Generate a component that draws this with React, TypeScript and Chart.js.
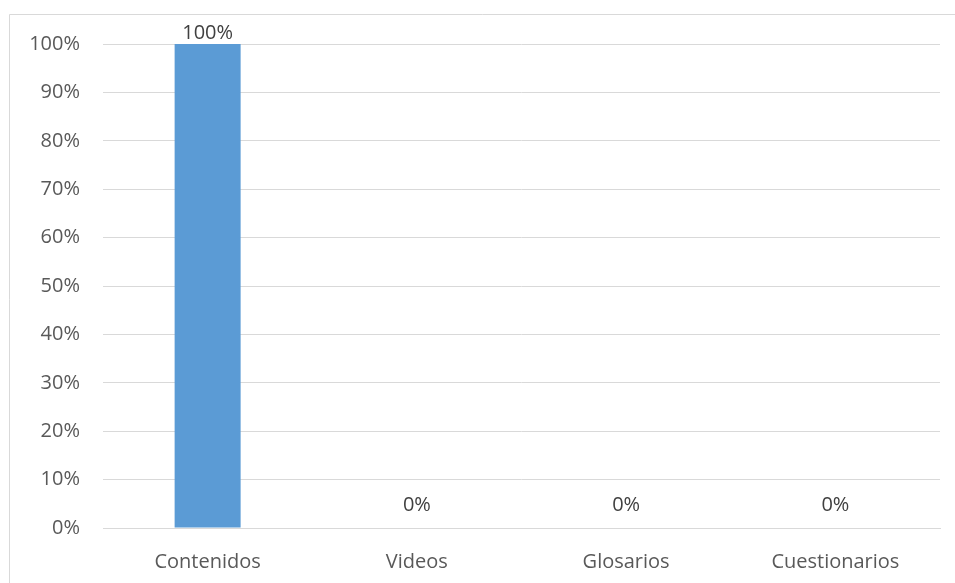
import React, { useEffect, useRef } from "react";
import { Chart, registerables } from "chart.js";

Chart.register(...registerables);

const categories = ["Contenidos", "Videos", "Glosarios", "Cuestionarios"];
const values = [100, 0, 0, 0];
const yTicks = [0, 10, 20, 30, 40, 50, 60, 70, 80, 90, 100];

const FONT = "'Open Sans', sans-serif";

const frame = {
  id: "frame",
  beforeDraw(chart: any) {
    const { ctx } = chart;
    ctx.save();
    ctx.fillStyle = "#ffffff";
    ctx.fillRect(0, 0, chart.width, chart.height);
    ctx.strokeStyle = "#d9d9d9";
    ctx.lineWidth = 1;
    ctx.beginPath();
    ctx.moveTo(9.5, chart.height + 5);
    ctx.lineTo(9.5, 14.5);
    ctx.lineTo(chart.width + 5, 14.5);
    ctx.stroke();
    ctx.restore();
  },
};

const labels = {
  id: "valueLabels",
  afterDatasetsDraw(chart: any) {
    const { ctx } = chart;
    const meta = chart.getDatasetMeta(0);
    ctx.save();
    ctx.font = `20px ${FONT}`;
    ctx.fillStyle = "#404040";
    ctx.textAlign = "center";
    ctx.textBaseline = "middle";
    meta.data.forEach((bar: any, i: number) => {
      const v = values[i];
      const off = v > 0 ? 11 : 23;
      ctx.fillText(`${v}%`, bar.x, bar.y - off);
    });
    ctx.restore();
  },
};

export default function App() {
  const ref = useRef<HTMLCanvasElement>(null);
  useEffect(() => {
    if (!ref.current) return;
    const chart = new Chart(ref.current, {
      type: "bar",
      data: {
        labels: categories,
        datasets: [
          {
            data: values,
            backgroundColor: "#5b9bd5",
            borderWidth: 0,
            categoryPercentage: 1,
            barPercentage: 0.3154,
          },
        ],
      },
      options: {
        responsive: false,
        animation: false,
        layout: { padding: { top: 44, right: 15, left: 0, bottom: 0 } },
        plugins: { legend: { display: false }, tooltip: { enabled: false } },
        scales: {
          x: {
            grid: { display: false, drawTicks: false },
            border: { display: true, color: "#d9d9d9", width: 1 },
            ticks: {
              color: "#595959",
              font: { family: FONT, size: 20 },
              padding: 22,
              maxRotation: 0,
            },
            afterFit(scale: any) {
              scale.height = 55;
            },
          },
          y: {
            min: 0,
            max: 100,
            afterBuildTicks(scale: any) {
              scale.ticks = yTicks.map((v) => ({ value: v }));
            },
            grid: { color: "#d9d9d9", drawTicks: false },
            border: { display: false },
            ticks: {
              color: "#595959",
              font: { family: FONT, size: 20 },
              padding: 23,
              callback: (v: any) => `${v}%`,
            },
            afterFit(scale: any) {
              scale.width = 103;
            },
          },
        },
      },
      plugins: [frame, labels],
    });
    return () => chart.destroy();
  }, []);
  return (
    <div style={{ position: "fixed", left: 0, top: 0, width: 955, height: 583 }}>
      <canvas ref={ref} width={955} height={583} style={{ display: "block" }} />
    </div>
  );
}
